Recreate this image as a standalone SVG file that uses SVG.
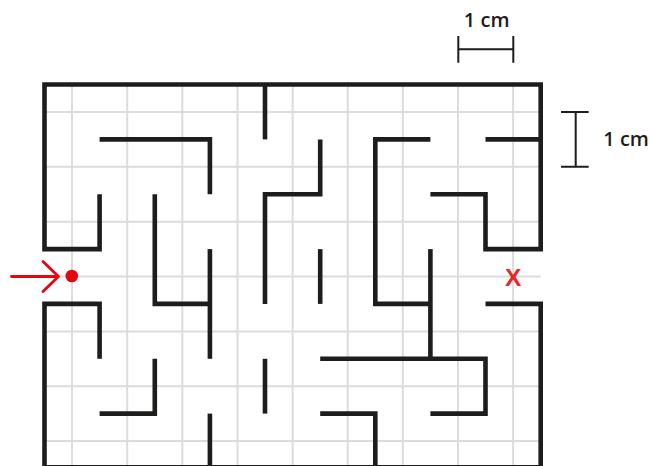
<svg xmlns="http://www.w3.org/2000/svg" width="650" height="466" viewBox="0 0 650 466">
<style>
.grid{stroke:#dcdcdc;stroke-width:2;fill:none}
.wall{stroke:#1d1d1b;stroke-width:4.6;fill:none;stroke-linejoin:miter;stroke-linecap:butt}
.scale{stroke:#1d1d1b;stroke-width:2;fill:none}
.lbl{font-family:"Open Sans","Liberation Sans",sans-serif;font-weight:600;font-size:20px;fill:#1d1d1b}
.red{stroke:#e30613;fill:none;stroke-width:2.8;stroke-linecap:round;stroke-linejoin:round}
</style>
<rect width="650" height="466" fill="#ffffff"/>
<g id="grid" class="grid">
<path d="M72,84.5V468.5M127.2,84.5V468.5M182.3,84.5V468.5M237.5,84.5V468.5M292.6,84.5V468.5M347.7,84.5V468.5M402.8,84.5V468.5M458,84.5V468.5M513.1,84.5V468.5"/>
<path d="M44.5,112H540.7M44.5,166.8H540.7M44.5,221.7H540.7M44.5,276.5H540.7M44.5,331.4H540.7M44.5,386.2H540.7M44.5,441.1H540.7"/>
</g>
<g id="walls" class="wall">
<polyline points="99.6,194.2 99.6,249.1 44.5,249.1 44.5,84.5 540.7,84.5 540.7,249.1 485.5,249.1 485.5,194.2 430.4,194.2"/>
<polyline points="265,84.5 265,139.4"/>
<polyline points="99.6,139.4 209.9,139.4 209.9,194.2"/>
<polyline points="320.2,139.4 320.2,194.2 265,194.2 265,303.9"/>
<polyline points="430.4,139.4 375.3,139.4 375.3,303.9 430.4,303.9"/>
<polyline points="485.5,139.4 540.7,139.4"/>
<polyline points="154.8,194.2 154.8,303.9 209.9,303.9"/>
<polyline points="209.9,249.1 209.9,358.8"/>
<polyline points="320.2,249.1 320.2,303.9"/>
<polyline points="430.4,249.1 430.4,358.8"/>
<polyline points="99.6,358.8 99.6,303.9 44.5,303.9 44.5,467.4 540.7,467.4 540.7,303.9 485.5,303.9"/>
<polyline points="320.2,358.8 485.5,358.8 485.5,413.6 430.4,413.6"/>
<polyline points="154.8,358.8 154.8,413.6 99.6,413.6"/>
<polyline points="265,358.8 265,413.6"/>
<polyline points="209.9,413.6 209.9,467.4"/>
<polyline points="320.2,413.6 375.3,413.6 375.3,467.4"/>
</g>
<g id="start">
<path class="red" d="M11.5,276.5H58.5M43,261.5L58.5,276.5L43,291.5"/>
<circle cx="71.8" cy="276" r="6.3" fill="#e30613"/>
</g>
<g id="goal">
<text x="513.2" y="286" text-anchor="middle" font-family="'Liberation Sans',Arial,sans-serif" font-weight="bold" font-size="24.5" fill="#e4282b">X</text>
</g>
<g id="scale-h">
<path class="scale" d="M458.3,49.3H513.3M458.3,36V62.7M513.3,36V62.7"/>
<text class="lbl" x="486.7" y="27.3" text-anchor="middle">1 cm</text>
</g>
<g id="scale-v">
<path class="scale" d="M575.7,112V166.8M561,112H588.7M561,166.8H588.7"/>
<text class="lbl" x="603.3" y="146">1 cm</text>
</g>
</svg>
